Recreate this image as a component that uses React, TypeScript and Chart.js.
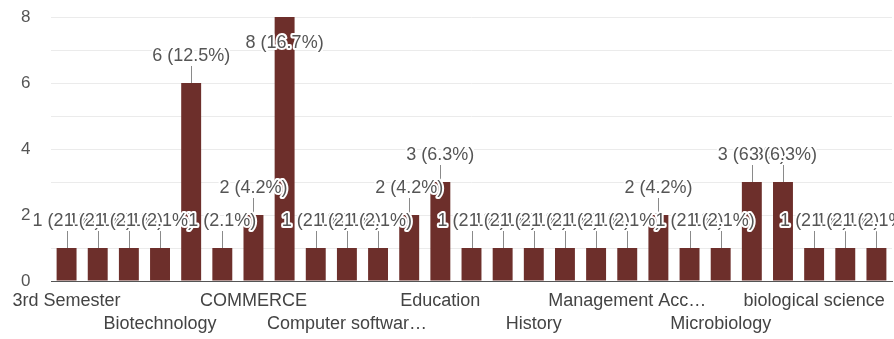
import { useEffect, useRef } from "react";
import { Chart, registerables } from "chart.js";

Chart.register(...registerables);

const categories = [
  "3rd Semester",
  "Agriculture",
  "BBA",
  "Biotechnology",
  "Botany",
  "Business Studies",
  "COMMERCE",
  "Commerce",
  "Computer Science",
  "Computer software engineering",
  "Economics",
  "Economics Honours",
  "Education",
  "English",
  "Geography",
  "History",
  "Hotel Management",
  "Law",
  "Management Accounting",
  "Mathematics",
  "Medical",
  "Microbiology",
  "Physics",
  "Zoology",
  "biological science",
  "biotechnology",
  "chemistry",
];

const values = [1, 1, 1, 1, 6, 1, 2, 8, 1, 1, 1, 2, 3, 1, 1, 1, 1, 1, 1, 2, 1, 1, 3, 3, 1, 1, 1];

const yTickValues = [0, 2, 4, 6, 8];

const FONT = "'Liberation Sans', Arial, Helvetica, sans-serif";
const BAR_COLOR = "#6d2f2b";

let measureCtx: CanvasRenderingContext2D | null = null;
function truncate(text: string, maxWidth: number, fontSize: number): string {
  if (!measureCtx) {
    const c = document.createElement("canvas");
    measureCtx = c.getContext("2d");
  }
  const ctx = measureCtx!;
  ctx.font = `${fontSize}px ${FONT}`;
  if (ctx.measureText(text).width <= maxWidth) return text;
  let t = text;
  while (t.length > 1 && ctx.measureText(t + "…").width > maxWidth) {
    t = t.slice(0, -1);
  }
  return t + "…";
}

export default function App() {
  const ref = useRef<HTMLCanvasElement>(null);

  useEffect(() => {
    if (!ref.current) return;
    const total = values.reduce((a, b) => a + b, 0);

    const labelPlugin = {
      id: "barLabels",
      afterDatasetsDraw(chart: any) {
        const ctx: CanvasRenderingContext2D = chart.ctx;
        const meta = chart.getDatasetMeta(0);
        const items = meta.data.map((el: any, i: number) => {
          const x = el.x;
          const top = el.y;
          let ly = top - 27;
          let leader = true;
          if (ly - 10 < 0) {
            ly = top + 26;
            leader = false;
          }
          const pct = ((values[i] / total) * 100).toFixed(1);
          return { x, top, ly, leader, text: `${values[i]} (${pct}%)` };
        });
        ctx.save();
        ctx.strokeStyle = "#8a8a8a";
        ctx.lineWidth = 1;
        items.forEach((it: any) => {
          if (!it.leader) return;
          const px = Math.round(it.x) + 0.5;
          ctx.beginPath();
          ctx.moveTo(px, it.top);
          ctx.lineTo(px, it.top - 17);
          ctx.stroke();
        });
        ctx.font = `18px ${FONT}`;
        ctx.textAlign = "center";
        ctx.textBaseline = "middle";
        ctx.lineJoin = "round";
        items.forEach((it: any) => {
          ctx.strokeStyle = "#ffffff";
          ctx.lineWidth = 4;
          ctx.strokeText(it.text, it.x, it.ly);
          ctx.fillStyle = "#555555";
          ctx.fillText(it.text, it.x, it.ly);
        });
        ctx.restore();
      },
    };

    const chart = new Chart(ref.current, {
      type: "bar",
      data: {
        labels: categories,
        datasets: [
          {
            data: values,
            backgroundColor: BAR_COLOR,
            borderWidth: 0,
            categoryPercentage: 0.8,
            barPercentage: 0.8,
          },
        ],
      },
      options: {
        animation: false,
        responsive: true,
        maintainAspectRatio: false,
        layout: { padding: { top: 17, right: 2, bottom: 0, left: 21 } },
        plugins: {
          legend: { display: false },
          tooltip: { enabled: false },
        },
        scales: {
          x: {
            grid: { display: false, drawTicks: false },
            border: { display: true, color: "#555555", width: 1 },
            afterFit: (s: any) => {
              s.height = 58;
            },
            ticks: {
              autoSkip: false,
              maxRotation: 0,
              minRotation: 0,
              padding: 8,
              color: "#444444",
              font: { family: FONT, size: 18, lineHeight: 1.3 },
              callback: (_v: any, index: number) => {
                const name = truncate(categories[index], 164, 18);
                if (index % 6 === 0) return name;
                if (index % 6 === 3) return ["", name];
                return "";
              },
            },
          },
          y: {
            min: 0,
            max: 8,
            grid: { color: "#ebebeb", lineWidth: 1, drawTicks: false },
            border: { display: false },
            afterFit: (s: any) => {
              s.width = 30;
            },
            ticks: {
              stepSize: 1,
              padding: 0,
              crossAlign: "far",
              color: "#555555",
              font: { family: FONT, size: 17 },
              callback: (v: any) => (yTickValues.includes(Number(v)) ? String(v) : ""),
            },
          },
        },
      },
      plugins: [labelPlugin],
    });

    return () => chart.destroy();
  }, []);

  return (
    <div style={{ position: "absolute", left: 0, top: 0, width: 894, height: 339, background: "#fff" }}>
      <canvas ref={ref} />
    </div>
  );
}
